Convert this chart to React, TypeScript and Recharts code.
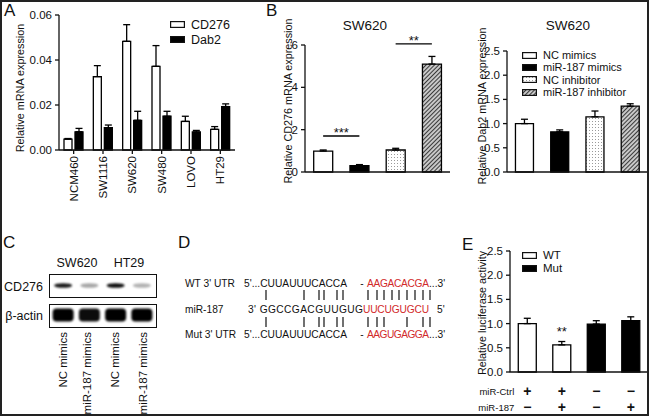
import React from 'react'
import { BarChart, Bar, XAxis, YAxis, ErrorBar, Cell, ReferenceLine, LabelList } from 'recharts'

const FONT = '"Liberation Sans", Arial, Helvetica, sans-serif'
const INK = '#111'
const RED = '#d22a2a'

// A: CD276 / Dab2 in cell lines
const cellLines = ['NCM460', 'SW1116', 'SW620', 'SW480', 'LOVO', 'HT29']
const cd276Expr = [0.0048, 0.0326, 0.0483, 0.0372, 0.0127, 0.0092]
const cd276Sd = [0.0003, 0.0049, 0.0074, 0.0092, 0.0023, 0.0012]
const dab2Expr = [0.0081, 0.0099, 0.0132, 0.015, 0.008, 0.0193]
const dab2Sd = [0.0015, 0.0012, 0.004, 0.0022, 0.0007, 0.0012]

// B: SW620 after transfection
const groupsB = ['NC mimics', 'miR-187 mimics', 'NC inhibitor', 'miR-187 inhibitor']
const groupFills = ['#fff', '#000', 'url(#dots)', 'url(#hatch)']
const cd276Rel = [0.99, 0.3, 1.04, 5.1]
const cd276RelSd = [0.05, 0.05, 0.08, 0.36]
const dab2Rel = [1.0, 0.83, 1.14, 1.36]
const dab2RelSd = [0.09, 0.04, 0.12, 0.05]

// C: western blot band intensities
const blotLanes = ['NC mimics', 'miR-187 mimics', 'NC mimics', 'miR-187 mimics']
const blotCells = ['SW620', 'HT29']
const cd276Band = [0.9, 0.35, 0.95, 0.3]
const actinBand = [1, 0.95, 1, 1]

// D: base-pairing marks
const wtPairs = [266, 304, 319, 324, 337, 343, 368, 377, 384, 392, 399, 407, 415, 423, 430]
const mutPairs = [266, 304, 319, 324, 337, 343, 368, 377, 384, 407, 423, 430]

// E: luciferase
const lucGroups = ['WT/ctrl', 'WT/miR-187', 'Mut/ctrl', 'Mut/miR-187']
const lucConstruct = ['WT', 'WT', 'Mut', 'Mut']
const lucValues = [1.0, 0.56, 0.99, 1.06]
const lucSd = [0.11, 0.07, 0.07, 0.08]
const lucSig = ['', '**', '', '']
const mirCtrl = ['+', '+', '\u2212', '\u2212']
const mir187 = ['\u2212', '+', '\u2212', '+']

const dataA = cellLines.map((name, i) => ({
  name,
  cd276: cd276Expr[i],
  cd276Err: [0, cd276Sd[i]],
  dab2: dab2Expr[i],
  dab2Err: [0, dab2Sd[i]],
}))
const dataBcd = groupsB.map((name, i) => ({ name, value: cd276Rel[i], err: [0, cd276RelSd[i]] }))
const dataBdab = groupsB.map((name, i) => ({ name, value: dab2Rel[i], err: [0, dab2RelSd[i]] }))
const dataE = lucGroups.map((name, i) => ({ name, value: lucValues[i], err: [0, lucSd[i]], sig: lucSig[i] }))
const dataCd = blotLanes.map((name, i) => ({ name, v: cd276Band[i] }))
const dataActin = blotLanes.map((name, i) => ({ name, v: actinBand[i] }))

const axisLine = { stroke: INK, strokeWidth: 1.3 }
const tickStyle = { fill: INK, fontSize: 11.5, fontFamily: FONT }

const RotTick = ({ x, y, payload }: any) => (
  <text x={x} y={y} transform={`rotate(-90 ${x} ${y})`} textAnchor="end" dominantBaseline="central"
    fill={INK} fontSize={11.5} fontFamily={FONT}>{payload.value}</text>
)

const SignTick = ({ x, y, index }: any) => (
  <g fontFamily={FONT} fill={INK}>
    {index === 0 && (
      <>
        <text x={x - 13} y={y + 19} textAnchor="end" dominantBaseline="central" fontSize={9.5}>miR-Ctrl</text>
        <text x={x - 13} y={y + 35} textAnchor="end" dominantBaseline="central" fontSize={9.5}>miR-187</text>
      </>
    )}
    <text x={x} y={y + 19} textAnchor="middle" dominantBaseline="central" fontSize={14} fontWeight="bold">{mirCtrl[index]}</text>
    <text x={x} y={y + 35} textAnchor="middle" dominantBaseline="central" fontSize={14} fontWeight="bold">{mir187[index]}</text>
  </g>
)

const CdBand = (p: any) => {
  const cx = p.x + p.width / 2
  return <ellipse cx={cx} cy={10.5} rx={9} ry={2.3} fill="#000" opacity={p.payload.v} filter="url(#blur)" />
}
const ActinBand = (p: any) => {
  const cx = p.x + p.width / 2
  return <rect x={cx - 10.5} y={3.5} width={21} height={13} rx={4} fill="#050505" opacity={p.payload.v} filter="url(#blur)" />
}

const Swatch = ({ fill }: { fill: string }) => (
  <svg width={15} height={7} style={{ display: 'block' }}>
    <rect x={0.6} y={0.6} width={13.8} height={5.8} fill={fill} stroke={INK} strokeWidth={1.2} />
  </svg>
)

const LegendBox = ({ items, fills, left, top, gap, fontSize }: any) => (
  <div style={{ position: 'absolute', left, top, fontFamily: FONT, fontSize, color: INK }}>
    {items.map((t: string, i: number) => (
      <div key={t} style={{ display: 'flex', alignItems: 'center', height: gap }}>
        <Swatch fill={fills[i]} />
        <span style={{ marginLeft: 6 }}>{t}</span>
      </div>
    ))}
  </div>
)

const abs = (left: number, top: number): React.CSSProperties => ({ position: 'absolute', left, top })

export default function App() {
  return (
    <div style={{ position: 'absolute', left: 0, top: 0, width: 650, height: 417, background: '#fff', overflow: 'hidden' }}>
      <svg width={0} height={0} style={{ position: 'absolute' }}>
        <defs>
          <pattern id="dots" width={3} height={3} patternUnits="userSpaceOnUse">
            <rect width={3} height={3} fill="#fff" />
            <rect x={1} y={1} width={1} height={1} fill="#9a9a9a" />
          </pattern>
          <pattern id="hatch" width={3} height={3} patternUnits="userSpaceOnUse" patternTransform="rotate(45)">
            <rect width={3} height={3} fill="#c8c8c8" />
            <line x1={0} y1={0} x2={0} y2={3} stroke="#2a2a2a" strokeWidth={1.8} />
          </pattern>
          <filter id="blur" x="-30%" y="-60%" width="160%" height="220%">
            <feGaussianBlur stdDeviation={0.8} />
          </filter>
        </defs>
      </svg>

      {/* A */}
      <div style={abs(0, 0)}>
        <BarChart width={240} height={210} data={dataA} margin={{ top: 15, right: 5, left: 0, bottom: 0 }}
          barCategoryGap={5} barGap={3}>
          <XAxis dataKey="name" height={60} interval={0} axisLine={axisLine} tickLine={axisLine} tickSize={4} tickMargin={2} tick={<RotTick />} />
          <YAxis width={59} domain={[0, 0.06]} ticks={[0, 0.02, 0.04, 0.06]} tickFormatter={(v: number) => v.toFixed(2)}
            axisLine={axisLine} tickLine={axisLine} tickSize={4} tickMargin={3} tick={tickStyle} />
          <Bar dataKey="cd276" fill="#fff" stroke="#000" strokeWidth={1.3} isAnimationActive={false}>
            <ErrorBar dataKey="cd276Err" width={3.5} stroke="#000" strokeWidth={1.3} />
          </Bar>
          <Bar dataKey="dab2" fill="#000" stroke="#000" strokeWidth={1.3} isAnimationActive={false}>
            <ErrorBar dataKey="dab2Err" width={3.5} stroke="#000" strokeWidth={1.3} />
          </Bar>
        </BarChart>
      </div>
      <LegendBox items={['CD276', 'Dab2']} fills={['#fff', '#000']} left={170} top={17} gap={15} fontSize={12.5} />

      {/* B left */}
      <div style={abs(240, 0)}>
        <BarChart width={215} height={210} data={dataBcd} margin={{ top: 45, right: 5, left: 0, bottom: 0 }} barCategoryGap="24%">
          <XAxis dataKey="name" height={38} axisLine={axisLine} tick={false} tickLine={false} />
          <YAxis width={65} domain={[0, 6]} ticks={[0, 2, 4, 6]} axisLine={axisLine} tickLine={axisLine} tickSize={4} tickMargin={3} tick={tickStyle} />
          <Bar dataKey="value" stroke="#000" strokeWidth={1.3} isAnimationActive={false}>
            {dataBcd.map((d, i) => <Cell key={d.name} fill={groupFills[i]} />)}
            <ErrorBar dataKey="err" width={3.5} stroke="#000" strokeWidth={1.3} />
          </Bar>
          <ReferenceLine segment={[{ x: groupsB[0], y: 1.7 }, { x: groupsB[1], y: 1.7 }]} stroke="#000" strokeWidth={1.3} ifOverflow="visible"
            label={{ value: '***', position: 'top', offset: -1, fill: INK, fontSize: 13, fontFamily: FONT }} />
          <ReferenceLine segment={[{ x: groupsB[2], y: 6.05 }, { x: groupsB[3], y: 6.05 }]} stroke="#000" strokeWidth={1.3} ifOverflow="visible"
            label={{ value: '**', position: 'top', offset: -1, fill: INK, fontSize: 13, fontFamily: FONT }} />
        </BarChart>
      </div>

      {/* B right */}
      <div style={abs(450, 0)}>
        <BarChart width={200} height={210} data={dataBdab} margin={{ top: 51, right: 2, left: 0, bottom: 0 }} barCategoryGap="24%">
          <XAxis dataKey="name" height={38} axisLine={axisLine} tick={false} tickLine={false} />
          <YAxis width={57} domain={[0, 2.5]} ticks={[0, 0.5, 1, 1.5, 2, 2.5]} tickFormatter={(v: number) => v.toFixed(1)}
            axisLine={axisLine} tickLine={axisLine} tickSize={4} tickMargin={3} tick={tickStyle} />
          <Bar dataKey="value" stroke="#000" strokeWidth={1.3} isAnimationActive={false}>
            {dataBdab.map((d, i) => <Cell key={d.name} fill={groupFills[i]} />)}
            <ErrorBar dataKey="err" width={3.5} stroke="#000" strokeWidth={1.3} />
          </Bar>
        </BarChart>
      </div>
      <LegendBox items={groupsB} fills={groupFills} left={522} top={49} gap={12.3} fontSize={11} />

      {/* C blots */}
      <div style={{ ...abs(49, 274), width: 108, height: 24, border: `1.5px solid ${INK}`, boxSizing: 'border-box' }}>
        <BarChart width={105} height={21} data={dataCd} margin={{ top: 0, right: 0, left: 0, bottom: 0 }} barCategoryGap="10%">
          <XAxis dataKey="name" hide />
          <YAxis hide domain={[0, 1]} />
          <Bar dataKey="v" isAnimationActive={false} shape={(p: any) => <CdBand {...p} />} />
        </BarChart>
      </div>
      <div style={{ ...abs(49, 304), width: 108, height: 24, border: `1.5px solid ${INK}`, boxSizing: 'border-box' }}>
        <BarChart width={105} height={21} data={dataActin} margin={{ top: 0, right: 0, left: 0, bottom: 0 }} barCategoryGap="10%">
          <XAxis dataKey="name" hide />
          <YAxis hide domain={[0, 1]} />
          <Bar dataKey="v" isAnimationActive={false} shape={(p: any) => <ActinBand {...p} />} />
        </BarChart>
      </div>

      {/* E */}
      <div style={abs(450, 200)}>
        <BarChart width={200} height={217} data={dataE} margin={{ top: 51, right: 2, left: 0, bottom: 0 }} barCategoryGap="24%">
          <XAxis dataKey="name" height={45} interval={0} axisLine={axisLine} tickLine={false} tickSize={0} tickMargin={0} tick={<SignTick />} />
          <YAxis width={60} domain={[0, 2.5]} ticks={[0, 0.5, 1, 1.5, 2, 2.5]} tickFormatter={(v: number) => v.toFixed(1)}
            axisLine={axisLine} tickLine={axisLine} tickSize={4} tickMargin={3} tick={tickStyle} />
          <Bar dataKey="value" stroke="#000" strokeWidth={1.3} isAnimationActive={false}>
            {dataE.map((d, i) => <Cell key={d.name} fill={lucConstruct[i] === 'WT' ? '#fff' : '#000'} />)}
            <ErrorBar dataKey="err" width={3.5} stroke="#000" strokeWidth={1.3} />
            <LabelList dataKey="sig" position="top" offset={9} fill={INK} fontSize={13} fontFamily={FONT} />
          </Bar>
        </BarChart>
      </div>
      <LegendBox items={['WT', 'Mut']} fills={['#fff', '#000']} left={522} top={255 - 6.5} gap={13} fontSize={11.5} />

      {/* text overlay */}
      <svg width={650} height={417} style={{ position: 'absolute', left: 0, top: 0, pointerEvents: 'none' }} fontFamily={FONT} fill={INK}>
        <g fontSize={17}>
          <text x={4} y={16}>A</text>
          <text x={266} y={16}>B</text>
          <text x={3} y={248}>C</text>
          <text x={178} y={248}>D</text>
          <text x={462} y={250}>E</text>
        </g>
        <g fontSize={13.5} textAnchor="middle">
          <text x={365} y={30}>SW620</text>
          <text x={568} y={30}>SW620</text>
        </g>
        <g fontSize={10.8} textAnchor="middle" dominantBaseline="central">
          <text transform="translate(20 88) rotate(-90)">Relative mRNA expression</text>
          <text transform="translate(288 101) rotate(-90)">Relative CD276 mRNA expression</text>
          <text transform="translate(482 106) rotate(-90)">Relative Dab2 mRNA expression</text>
          <text transform="translate(482 313) rotate(-90)">Relative luciferase activity</text>
        </g>

        {/* C labels */}
        <g fontSize={12.5}>
          <text x={77} y={267} textAnchor="middle">{blotCells[0]}</text>
          <text x={129} y={267} textAnchor="middle">{blotCells[1]}</text>
          <text x={43} y={291} textAnchor="end">CD276</text>
          <text x={43} y={320} textAnchor="end">β-actin</text>
        </g>
        <g fontSize={11.5} textAnchor="end" dominantBaseline="central">
          {blotLanes.map((t, i) => {
            const x = [63, 87, 115, 143][i]
            return <text key={i} transform={`translate(${x} 332) rotate(-90)`}>{t}</text>
          })}
        </g>

        {/* D sequences */}
        <g fontSize={10.2} dominantBaseline="central">
          <text x={185} y={283}>WT 3' UTR</text>
          <text x={244} y={283} textLength={103} lengthAdjust="spacing">5'...CUUAUUUCACCA</text>
          <text x={362} y={283} textAnchor="middle">-</text>
          <text x={367} y={283} fill={RED} textLength={62} lengthAdjust="spacing">AAGACACGA</text>
          <text x={429} y={283}>...3'</text>

          <text x={185} y={309}>miR-187</text>
          <text x={248} y={309} textLength={115} lengthAdjust="spacing">3' GGCCGACGUUGUG</text>
          <text x={363} y={309} fill={RED} textLength={66} lengthAdjust="spacing">UUCUGUGCU</text>
          <text x={437} y={309}>5'</text>

          <text x={185} y={334}>Mut 3' UTR</text>
          <text x={244} y={334} textLength={103} lengthAdjust="spacing">5'...CUUAUUUCACCA</text>
          <text x={362} y={334} textAnchor="middle">-</text>
          <text x={367} y={334} fill={RED} textLength={62} lengthAdjust="spacing">AAGUGAGGA</text>
          <text x={429} y={334}>...3'</text>
        </g>
        <g stroke={INK} strokeWidth={1.2}>
          {wtPairs.map((x, i) => <line key={'w' + i} x1={x} x2={x} y1={290} y2={300} />)}
          {mutPairs.map((x, i) => <line key={'m' + i} x1={x} x2={x} y1={317} y2={327} />)}
        </g>
      </svg>

      {/* frame */}
      <div style={{ position: 'absolute', left: 0, top: 0, width: 649, height: 416, border: '2px solid #222', boxSizing: 'border-box' }} />
    </div>
  )
}
